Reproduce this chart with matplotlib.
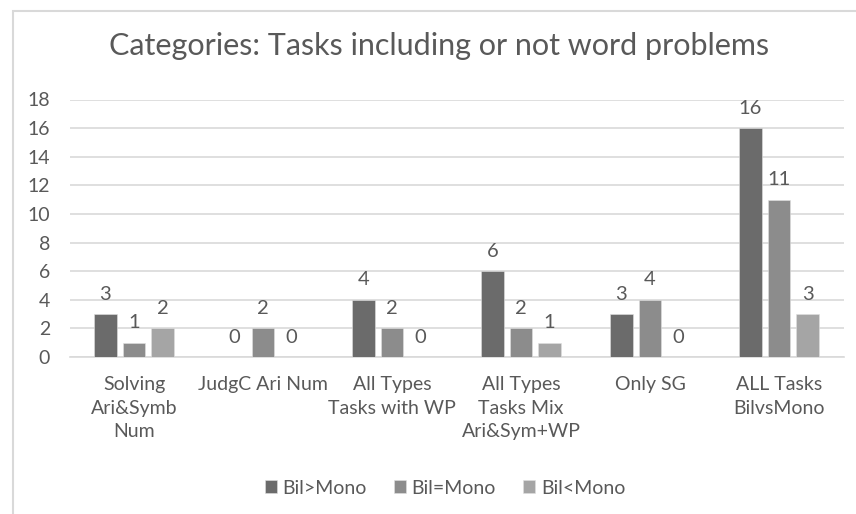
import matplotlib
matplotlib.use("Agg")
import matplotlib.pyplot as plt
import numpy as np

categories = ["Solving\nAri&Symb\nNum", "JudgC Ari Num", "All Types\nTasks with WP",
              "All Types\nTasks Mix\nAri&Sym+WP", "Only SG", "ALL Tasks\nBilvsMono"]
series_names = ["Bil>Mono", "Bil=Mono", "Bil<Mono"]
bil_gt = [3, 0, 4, 6, 3, 16]
bil_eq = [1, 2, 2, 2, 4, 11]
bil_lt = [2, 0, 0, 1, 0, 3]
yticks = [0, 2, 4, 6, 8, 10, 12, 14, 16, 18]

colors = ["#6b6b6b", "#8c8c8c", "#a5a5a5"]
txt = "#595959"
plt.rcParams["font.family"] = ["Lato", "DejaVu Sans"]

fig = plt.figure(figsize=(8.56, 5.14), dpi=100)
# chart border
fig.add_artist(plt.Rectangle((13 / 856, -0.1), 1.2, 1 - 11 / 514 + 0.1, transform=fig.transFigure,
                             fill=False, edgecolor="#d9d9d9", lw=1.5))
ax = fig.add_axes([69.5 / 856, 1 - 357 / 514, 774 / 856, 257.5 / 514])

x = np.arange(len(categories))
w = 0.178
step = 0.221
for i, (vals, name) in enumerate(zip([bil_gt, bil_eq, bil_lt], series_names)):
    ax.bar(x + (i - 1) * step, vals, w, color=colors[i], label=name, zorder=3,
           edgecolor="#e0e0e0", linewidth=0.4)
    for xb, v in zip(x + (i - 1) * step, vals):
        ax.text(xb, v + 0.8, str(v), ha="center", va="bottom", fontsize=14.5, color=txt)

ax.set_xlim(-0.5, len(categories) - 0.5)
ax.set_ylim(0, 18)
ax.set_yticks(yticks)
ax.yaxis.grid(True, color="#d9d9d9", lw=1.2, zorder=0)
for s in ["top", "right", "left"]:
    ax.spines[s].set_visible(False)
ax.spines["bottom"].set_color("#d9d9d9")
ax.spines["bottom"].set_linewidth(1.2)
ax.tick_params(axis="both", length=0, colors=txt, labelsize=14)
ax.tick_params(axis="y", pad=14)
ax.tick_params(axis="x", pad=14)
ax.set_xticks(x)
ax.set_xticklabels(categories, fontsize=14, color=txt, linespacing=1.45, va="top")

fig.text(0.513, 1 - 46 / 514, "Categories: Tasks including or not word problems",
         ha="center", va="center", fontsize=22, color=txt)

fig.legend(loc="center", bbox_to_anchor=(0.52, 1 - 488 / 514), ncol=3, frameon=False,
           fontsize=14, handlelength=0.6, handleheight=0.6, handletextpad=0.3,
           columnspacing=1.4, labelcolor=txt)

fig.savefig("out.png", dpi=100)
